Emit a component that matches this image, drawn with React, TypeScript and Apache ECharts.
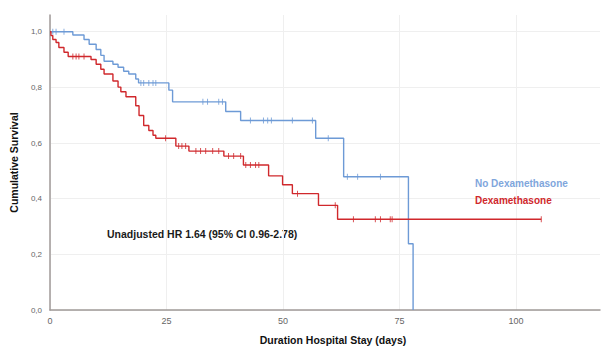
import React, { useEffect, useRef } from "react";
import * as echarts from "echarts";

// Kaplan-Meier steps: [time of drop, survival after drop]
const noDexSteps: [number, number][] = [
  [4.9, 0.988], [7.3, 0.972], [8.4, 0.955], [9.9, 0.936], [10.9, 0.915],
  [11.6, 0.894], [13.5, 0.883], [14.6, 0.872], [15.8, 0.858], [16.9, 0.848],
  [18.4, 0.83], [19.0, 0.816], [25.5, 0.79], [26.3, 0.748], [37.7, 0.713],
  [40.9, 0.681], [57.0, 0.617], [63.0, 0.479], [76.9, 0.238], [77.9, 0.0],
];
const noDexEnd = 77.9;
const noDexCensored: number[] = [
  0.6, 1.3, 3.0, 19.5, 20.1, 21.2, 22.1, 22.7, 32.8, 33.8, 36.2, 37.0,
  43.0, 45.8, 46.7, 47.5, 52.0, 56.3, 59.7, 63.8, 66.0, 70.9,
];

const dexSteps: [number, number][] = [
  [0.2, 0.986], [0.6, 0.972], [1.3, 0.961], [1.9, 0.943], [3.0, 0.926],
  [3.9, 0.911], [8.8, 0.9], [9.9, 0.883], [10.9, 0.865], [11.6, 0.848],
  [13.5, 0.823], [14.6, 0.801], [15.2, 0.784], [16.3, 0.766], [18.4, 0.734],
  [19.1, 0.699], [20.1, 0.663], [21.2, 0.645], [22.1, 0.628], [22.7, 0.617],
  [27.0, 0.589], [29.8, 0.571], [37.3, 0.553], [41.5, 0.521], [46.9, 0.482],
  [49.9, 0.45], [52.0, 0.418], [57.6, 0.376], [61.7, 0.326],
];
const dexEnd = 105.4;
const dexCensored: number[] = [
  4.9, 5.6, 6.2, 7.3, 24.8, 27.6, 28.3, 29.1, 31.3, 32.3, 33.4, 34.9, 36.2,
  38.3, 39.4, 40.9, 42.0, 43.0, 44.1, 44.8, 53.1, 61.2, 65.1, 69.8, 70.9,
  73.0, 73.4, 105.4,
];

const xTicks = [0, 25, 50, 75, 100];
const yTicks = [0, 0.2, 0.4, 0.6, 0.8, 1.0];

const seriesNames = ["No Dexamethasone", "Dexamethasone"];
const annotation = "Unadjusted HR 1.64 (95% CI 0.96-2.78)";

const BLUE = "#6d9ad6";
const RED = "#d0282c";
const FONT = "Liberation Sans, Arial, sans-serif";

function buildPath(steps: [number, number][], end: number): number[][] {
  const pts: number[][] = [[0, 1]];
  let s = 1;
  for (const [t, v] of steps) {
    pts.push([t, s]);
    pts.push([t, v]);
    s = v;
  }
  const last = pts[pts.length - 1][0];
  if (end > last) pts.push([end, s]);
  return pts;
}

function survivalAt(steps: [number, number][], t: number): number {
  let s = 1;
  for (const [ts, v] of steps) {
    if (ts <= t) s = v;
  }
  return s;
}

export default function App() {
  const ref = useRef<HTMLDivElement>(null);
  useEffect(() => {
    if (!ref.current) return;
    const chart = echarts.init(ref.current, null, { renderer: "svg" });
    const censorSymbol = {
      type: "scatter" as const,
      symbol: "rect",
      symbolSize: [1, 6],
      silent: true,
      z: 3,
    };
    chart.setOption({
      animation: false,
      textStyle: { fontFamily: FONT },
      grid: { left: 49, right: 5, top: 15, bottom: 36 },
      xAxis: {
        type: "value",
        min: 0,
        max: 118,
        interval: 25,
        name: "Duration Hospital Stay (days)",
        nameLocation: "middle",
        nameGap: 24,
        nameTextStyle: {
          fontWeight: "bold",
          fontSize: 10.5,
          color: "#111",
          padding: [0, 0, 0, 16],
        },
        axisLine: { show: true, lineStyle: { color: "#a09a98", width: 1.5 } },
        axisTick: { show: false },
        axisLabel: {
          color: "#666",
          fontSize: 9,
          margin: 6,
          customValues: xTicks,
        },
        splitLine: {
          show: true,
          showMaxLine: false,
          lineStyle: { color: "#efefef", width: 1 },
        },
      },
      yAxis: {
        type: "value",
        min: 0,
        max: 1.06,
        interval: 0.2,
        name: "Cumulative Survival",
        nameLocation: "middle",
        nameGap: 31,
        nameTextStyle: { fontWeight: "bold", fontSize: 10.5, color: "#111" },
        axisLine: { show: true, lineStyle: { color: "#a09a98", width: 1.5 } },
        axisTick: { show: false },
        axisLabel: {
          color: "#666",
          fontSize: 8,
          margin: 8,
          customValues: yTicks,
          formatter: (v: number) => v.toFixed(1).replace(".", ","),
        },
        splitLine: {
          show: true,
          showMaxLine: false,
          lineStyle: { color: "#efefef", width: 1 },
        },
      },
      legend: {
        show: true,
        orient: "vertical",
        left: 470,
        top: 171,
        icon: "none",
        itemWidth: 0,
        itemGap: 5,
        selectedMode: false,
        textStyle: { fontSize: 10, fontWeight: "bold", padding: [0, 0, 0, -5] },
        data: [
          { name: seriesNames[0], textStyle: { color: "#7fa6dc" } },
          { name: seriesNames[1], textStyle: { color: RED } },
        ],
      },
      graphic: [
        {
          type: "text",
          left: 107,
          top: 228,
          style: {
            text: annotation,
            font: `bold 10.5px ${FONT}`,
            fill: "#1a1a1a",
          },
        },
      ],
      series: [
        {
          name: seriesNames[0],
          type: "line",
          data: buildPath(noDexSteps, noDexEnd),
          showSymbol: false,
          symbol: "none",
          lineStyle: { color: BLUE, width: 1.4 },
          itemStyle: { color: BLUE },
          z: 2,
        },
        {
          name: seriesNames[1],
          type: "line",
          data: buildPath(dexSteps, dexEnd),
          showSymbol: false,
          symbol: "none",
          lineStyle: { color: RED, width: 1.4 },
          itemStyle: { color: RED },
          z: 2,
        },
        {
          ...censorSymbol,
          name: "noDexCensored",
          itemStyle: { color: BLUE },
          data: noDexCensored.map((t) => [t, survivalAt(noDexSteps, t)]),
        },
        {
          ...censorSymbol,
          name: "dexCensored",
          itemStyle: { color: RED },
          data: dexCensored.map((t) => [t, survivalAt(dexSteps, t)]),
        },
      ],
    });
    return () => chart.dispose();
  }, []);
  return <div ref={ref} style={{ width: 605, height: 350, position: "absolute", left: 0, top: 0, background: "#fff" }} />;
}
